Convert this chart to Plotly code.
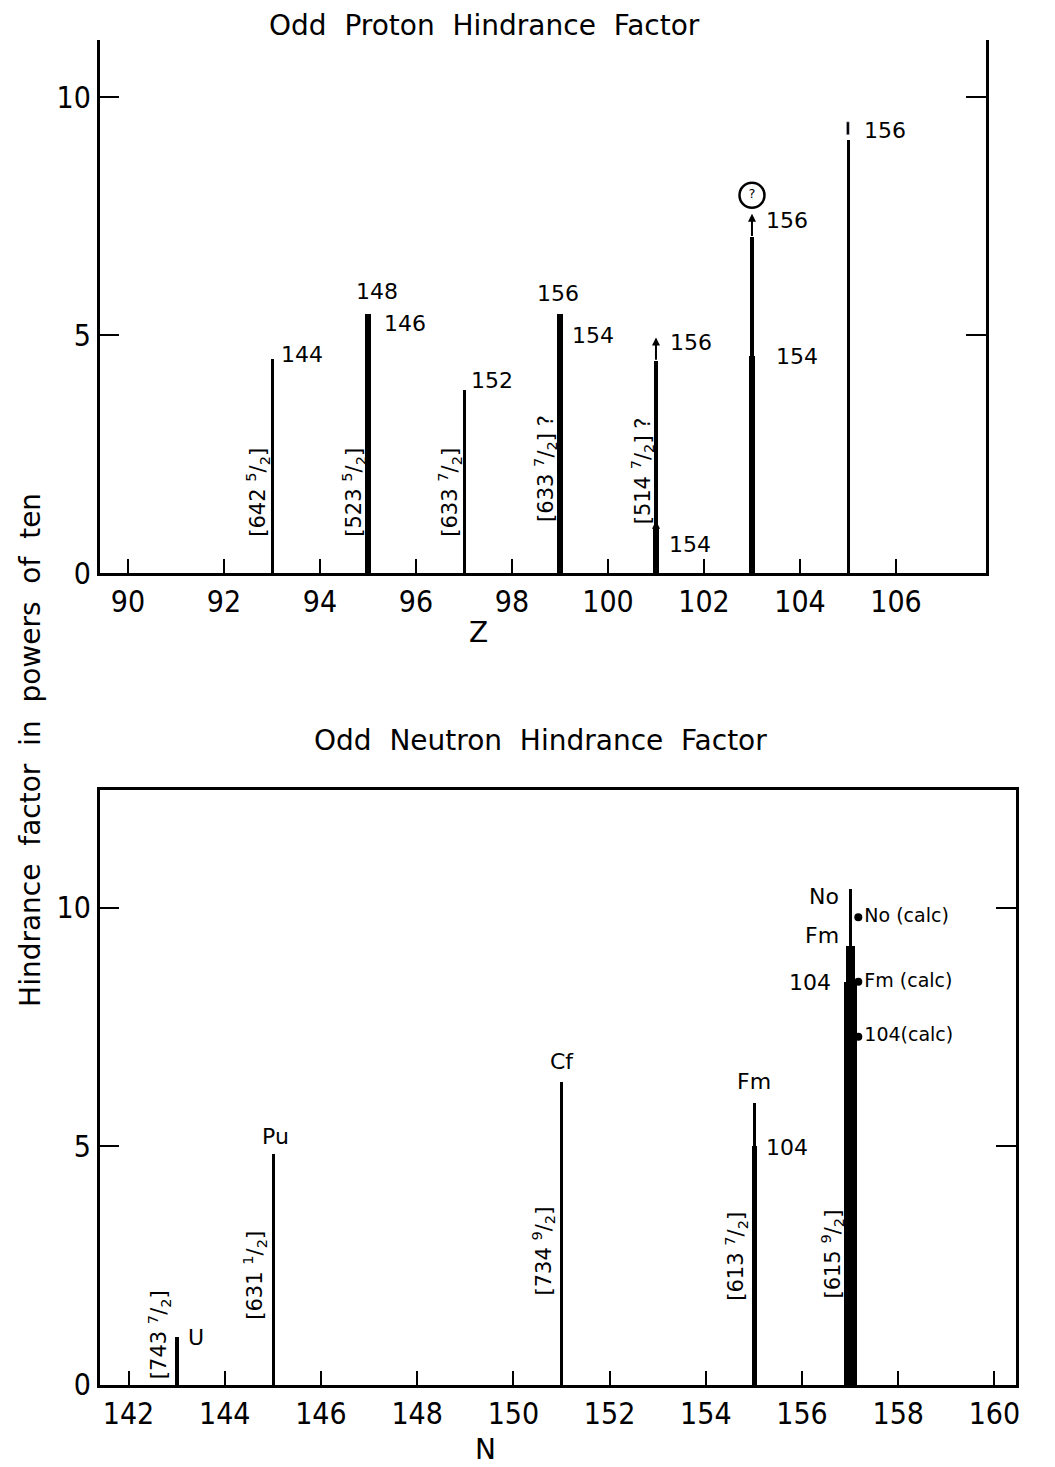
import plotly.graph_objects as go

# ---------------- DATA ----------------
# Odd proton panel
top_Z = [93, 95, 95, 97, 99, 99, 101, 101, 103, 103, 105]
top_N_label = ["144", "148", "146", "152", "156", "154", "156", "154", "156", "154", "156"]
top_hf = [4.5, 5.45, 5.3, 3.85, 5.45, 5.0, 4.45, 0.95, 7.05, 4.55, 9.1]
top_nilsson_Z = [93, 95, 97, 99, 101]
top_nilsson = ["[642 <sup>5</sup>/<sub>2</sub>]", "[523 <sup>5</sup>/<sub>2</sub>]",
               "[633 <sup>7</sup>/<sub>2</sub>]", "[633 <sup>7</sup>/<sub>2</sub>] ?",
               "[514 <sup>7</sup>/<sub>2</sub>] ?"]
top_xticks = [90, 92, 94, 96, 98, 100, 102, 104, 106]

# Odd neutron panel
bot_N = [143, 145, 151, 155, 155, 157, 157, 157]
bot_elem = ["U", "Pu", "Cf", "Fm", "104", "No", "Fm", "104"]
bot_hf = [1.0, 4.85, 6.35, 5.9, 5.0, 10.4, 9.2, 8.45]
calc_N = [157, 157, 157]
calc_label = ["No (calc)", "Fm (calc)", "104(calc)"]
calc_hf = [9.8, 8.45, 7.3]
bot_nilsson_N = [143, 145, 151, 155, 157]
bot_nilsson = ["[743 <sup>7</sup>/<sub>2</sub>]", "[631 <sup>1</sup>/<sub>2</sub>]",
               "[734 <sup>9</sup>/<sub>2</sub>]", "[613 <sup>7</sup>/<sub>2</sub>]",
               "[615 <sup>9</sup>/<sub>2</sub>]"]
bot_xticks = [142, 144, 146, 148, 150, 152, 154, 156, 158, 160]
yticks = [0, 5, 10]

# ---------------- STYLE ----------------
FONT = "DejaVu Sans"
TICKFONT = "DejaVu Sans Condensed, DejaVu Sans"
PAGE_OFF = 8            # default body margin of the html page
SY = 1467 / 1485        # vertical photo scaling observed
W, H = 1055 - 2 * PAGE_OFF, 1485 - 2 * PAGE_OFF
def px_x(p): return (p - PAGE_OFF) / W
def px_y(p): return 1 - (p / SY - PAGE_OFF) / H

top_width = [0.065, 0.12, 0.12, 0.065, 0.12, 0.12, 0.08, 0.13, 0.08, 0.13, 0.065]
bot_width = [0.065, 0.065, 0.065, 0.065, 0.1, 0.065, 0.17, 0.25]

fig = go.Figure()

fig.add_trace(go.Bar(x=top_Z, y=top_hf, width=top_width, base=0,
                     marker=dict(color="black", line=dict(width=0)),
                     xaxis="x", yaxis="y", showlegend=False))
fig.add_trace(go.Bar(x=bot_N, y=bot_hf, width=bot_width, base=0,
                     marker=dict(color="black", line=dict(width=0)),
                     xaxis="x2", yaxis="y2", showlegend=False))
# calc points
fig.add_trace(go.Scatter(x=[n + 0.17 for n in calc_N], y=calc_hf, mode="markers+text",
                         text=calc_label, textposition="middle right",
                         textfont=dict(family=FONT, size=19, color="black"),
                         marker=dict(color="black", size=8),
                         xaxis="x2", yaxis="y2", showlegend=False, cliponaxis=False))
# circled question mark on Z=103
fig.add_trace(go.Scatter(x=[103], y=[7.94], mode="markers+text", text=["?"],
                         textposition="middle center",
                         textfont=dict(family=FONT, size=13, color="black"),
                         marker=dict(symbol="circle-open", size=25, color="black",
                                     line=dict(width=2.5)),
                         xaxis="x", yaxis="y", showlegend=False))
# small broken tip above Z=105
fig.add_trace(go.Bar(x=[105], y=[0.27], base=[9.2], width=[0.05],
                     marker=dict(color="black"), xaxis="x", yaxis="y", showlegend=False))

ann = []
lab_font = dict(family=FONT, size=22, color="black")
# top labels: (dx, dy, anchor)
top_off = [(0.15, 0.1, "left"), (0.18, 0.47, "center"), (0.3, -0.05, "left"),
           (0.1, 0.2, "left"), (-0.05, 0.42, "center"), (0.2, 0.0, "left"),
           (0.25, 0.4, "left"), (0.23, -0.36, "left"), (0.25, 0.35, "left"),
           (0.45, 0.0, "left"), (0.3, 0.2, "left")]
for z, t, v, (dx, dy, a) in zip(top_Z, top_N_label, top_hf, top_off):
    ann.append(dict(x=z + dx, y=v + dy, xref="x", yref="y", text=t, showarrow=False,
                    xanchor=a, yanchor="middle", font=lab_font))
# lower-limit arrows
for z, y0, y1 in [(101, 4.45, 4.95), (101, 0.75, 1.1), (103, 7.05, 7.55)]:
    ann.append(dict(x=z, y=y1, ax=z, ay=y0, xref="x", yref="y", axref="x", ayref="y",
                    text="", showarrow=True, arrowhead=2, arrowsize=0.8, arrowwidth=2,
                    arrowcolor="black"))

nil_font = dict(family=FONT, size=21, color="black")
for z, t, yc in zip(top_nilsson_Z, top_nilsson, [1.7, 1.7, 1.7, 2.2, 2.15]):
    ann.append(dict(x=z - 0.3, y=yc, xref="x", yref="y", text=t, showarrow=False,
                    textangle=-90, xanchor="center", yanchor="middle", font=nil_font))

bot_off = [(0.4, 0.0, "center"), (0.05, 0.35, "center"), (0.02, 0.42, "center"),
           (0.0, 0.45, "center"), (0.2, -0.03, "left"), (-0.2, -0.17, "right"),
           (-0.2, 0.23, "right"), (-0.35, -0.02, "right")]
for n, t, v, (dx, dy, a) in zip(bot_N, bot_elem, bot_hf, bot_off):
    ann.append(dict(x=n + dx, y=v + dy, xref="x2", yref="y2", text=t, showarrow=False,
                    xanchor=a, yanchor="middle", font=lab_font))
for n, t, yc in zip(bot_nilsson_N, bot_nilsson, [1.05, 2.3, 2.8, 2.7, 2.75]):
    ann.append(dict(x=n - 0.38, y=yc, xref="x2", yref="y2", text=t, showarrow=False,
                    textangle=-90, xanchor="center", yanchor="middle", font=nil_font))

title_font = dict(family=FONT, size=28, color="black")
ann += [
    dict(x=px_x(486), y=px_y(25), xref="paper", yref="paper", text="Odd  Proton  Hindrance  Factor",
         showarrow=False, font=title_font, xanchor="center", yanchor="middle"),
    dict(x=px_x(543), y=px_y(741), xref="paper", yref="paper", text="Odd  Neutron  Hindrance  Factor",
         showarrow=False, font=title_font, xanchor="center", yanchor="middle"),
    dict(x=px_x(31), y=px_y(750), xref="paper", yref="paper",
         text="Hindrance  factor  in  powers  of  ten", textangle=-90,
         showarrow=False, font=title_font, xanchor="center", yanchor="middle"),
    dict(x=px_x(480), y=px_y(632), xref="paper", yref="paper", text="Z",
         showarrow=False, font=dict(family=FONT, size=28, color="black"),
         xanchor="center", yanchor="middle"),
    dict(x=px_x(487), y=px_y(1450), xref="paper", yref="paper", text="N",
         showarrow=False, font=dict(family=FONT, size=28, color="black"),
         xanchor="center", yanchor="middle"),
]

tick_font = dict(family=TICKFONT, size=30, color="black")
axis_common = dict(showgrid=False, zeroline=False, showline=True, linecolor="black",
                   linewidth=2.5, ticks="inside", tickcolor="black", tickwidth=2,
                   tickfont=tick_font)

fig.update_layout(
    width=W, height=H, autosize=False, margin=dict(l=0, r=0, t=0, b=0),
    paper_bgcolor="white", plot_bgcolor="white", barmode="overlay", bargap=0,
    annotations=ann,
    xaxis=dict(domain=[px_x(100), px_x(990)], range=[89.41, 107.88], anchor="y",
               tickvals=top_xticks, ticklen=14, mirror=False, **axis_common),
    yaxis=dict(domain=[px_y(573), px_y(40)], range=[0, 11.2], anchor="x",
               tickvals=yticks, ticklen=20, mirror="ticks", **axis_common),
    xaxis2=dict(domain=[px_x(100), px_x(1020)], range=[141.40, 160.45], anchor="y2",
                tickvals=bot_xticks, ticklen=14, mirror=True, **axis_common),
    yaxis2=dict(domain=[px_y(1385), px_y(790)], range=[0, 12.47], anchor="x2",
                tickvals=yticks, ticklen=20, mirror="ticks", **axis_common),
)

fig.write_html("out.html")
